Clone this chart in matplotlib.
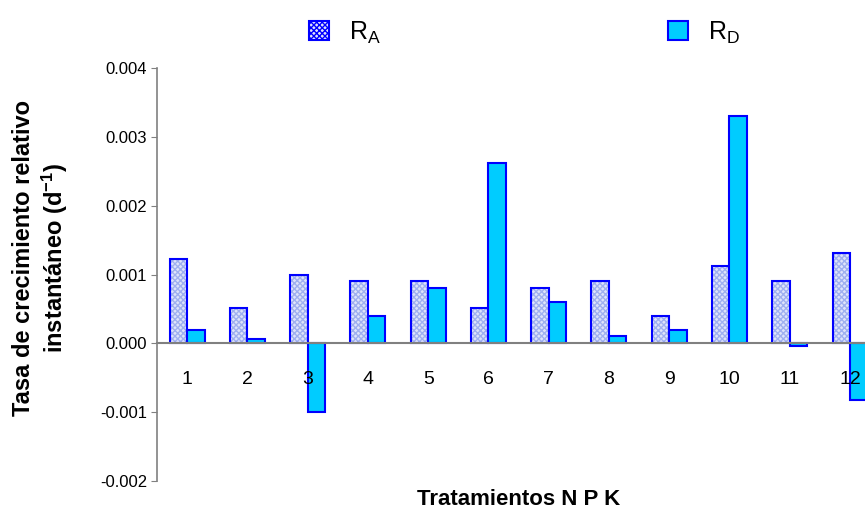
import numpy as np
import matplotlib.pyplot as plt
from matplotlib.patches import Patch

plt.rcParams['font.family'] = ['Liberation Sans', 'DejaVu Sans']
plt.rcParams['mathtext.default'] = 'regular'

# Datos
tratamientos = ['1', '2', '3', '4', '5', '6', '7', '8', '9', '10', '11', '12']
ra = [0.00122, 0.00051, 0.00100, 0.00091, 0.00091, 0.00051,
      0.00080, 0.00091, 0.00040, 0.00112, 0.00091, 0.00131]
rd = [0.00019, 0.00006, -0.00100, 0.00040, 0.00080, 0.00262,
      0.00060, 0.00011, 0.00020, 0.00330, -0.00004, -0.00083]
yticks = [-0.002, -0.001, 0.000, 0.001, 0.002, 0.003, 0.004]

x = np.arange(1, len(tratamientos) + 1)
ancho = 0.29
azul = '#0000FF'
cian = '#00CCFF'

fig = plt.figure(figsize=(8.65, 5.2), dpi=100)
ax = fig.add_axes([0.1815, 0.075, 0.836, 0.794])

# R_A: relleno tramado + borde azul
ax.bar(x - ancho, ra, ancho, align='edge', color='#dfe4fb', edgecolor='#9fb0f0',
       hatch='xxxxxx', linewidth=0, zorder=2)
ax.bar(x - ancho, ra, ancho, align='edge', fill=False, edgecolor=azul,
       linewidth=1.5, zorder=3)
# R_D
ax.bar(x, rd, ancho, align='edge', color=cian, edgecolor=azul, linewidth=1.5, zorder=3)

ax.set_xlim(0.5, 12.5)
ax.set_ylim(-0.002, 0.004)
ax.set_yticks(yticks)
ax.set_yticklabels([f'{v:.3f}' for v in yticks], fontsize=12)

ax.spines['top'].set_visible(False)
ax.spines['right'].set_visible(False)
ax.spines['left'].set_color('#808080')
ax.spines['bottom'].set_color('#808080')
ax.spines['left'].set_linewidth(1.2)
ax.spines['bottom'].set_linewidth(1.5)
ax.spines['bottom'].set_position(('data', 0))
ax.spines['bottom'].set_zorder(4)
ax.tick_params(axis='y', direction='out', length=4, color='#808080', pad=3)
ax.set_xticks(x)
ax.set_xticklabels(tratamientos, fontsize=14)
ax.tick_params(axis='x', length=0, pad=20)
ax.xaxis.set_zorder(5)

ax.set_ylabel('Tasa de crecimiento relativo\ninstantáneo (d$^{-1}$)',
              fontsize=17, fontweight='bold', labelpad=22, y=0.54)
ax.text(0.5, -0.045, 'Tratamientos N P K', transform=ax.transAxes,
        ha='center', va='center', fontsize=16, fontweight='bold')

handles = [Patch(facecolor='#dfe4fb', edgecolor=azul, hatch='xxxxxx', linewidth=1.5),
           Patch(facecolor=cian, edgecolor=azul, linewidth=1.5)]
fig.legend(handles, ['R$_A$', 'R$_D$'], ncol=2, loc='upper left',
           bbox_to_anchor=(0.331, 1.006), frameon=False, fontsize=18,
           handlelength=0.8, handleheight=0.8, handletextpad=0.8,
           columnspacing=11.5)

fig.savefig('out.png', dpi=100)
